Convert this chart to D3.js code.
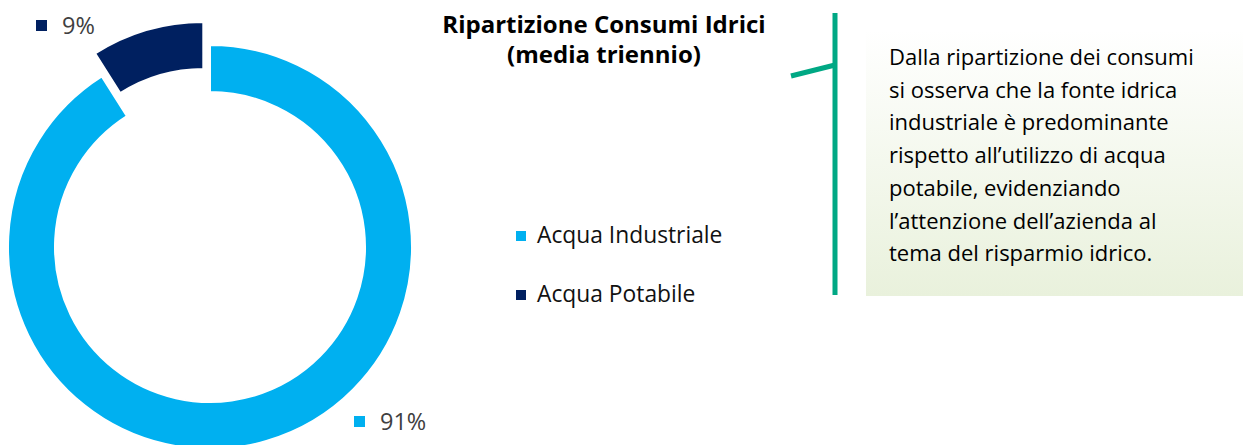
<!DOCTYPE html>
<html>
<head>
<meta charset="utf-8">
<script src="https://cdn.jsdelivr.net/npm/d3@7"></script>
<style>
  body { margin: 0; background: #fff; }
  svg { display: block; font-family: "Open Sans", Lato, sans-serif; font-variant-ligatures: none; }
</style>
</head>
<body>
<div id="chart"></div>
<script>
var svgWidth = 1243;
var svgHeight = 445;

// data
var categories = ["Acqua Industriale", "Acqua Potabile"];
var values = [91, 9];
var colors = ["#00B0F0", "#002060"];
var titleLines = ["Ripartizione Consumi Idrici", "(media triennio)"];
var noteLines = [
  "Dalla ripartizione dei consumi",
  "si osserva che la fonte idrica",
  "industriale è predominante",
  "rispetto all\u2019utilizzo di acqua",
  "potabile, evidenziando",
  "l\u2019attenzione dell\u2019azienda al",
  "tema del risparmio idrico."
];

var svg = d3.select("#chart")
  .append("svg")
  .attr("width", svgWidth)
  .attr("height", svgHeight);

// donut
var cx = 210, cy = 247;
var outerR = 202, innerR = 155;
var explode = 24;

var pie = d3.pie().sort(null).value(d => d);
var arc = d3.arc().innerRadius(innerR).outerRadius(outerR);
var arcs = pie(values);

var donut = svg.append("g")
  .attr("transform", `translate(${cx}, ${cy})`);

donut.selectAll("path")
  .data(arcs)
  .enter()
  .append("path")
  .attr("d", arc)
  .attr("fill", (d, i) => colors[i])
  .attr("stroke", "#fff")
  .attr("stroke-width", 2)
  .attr("transform", function(d, i) {
    if (i !== 1) return null;
    // pull the small slice out along its bisector
    var mid = (d.startAngle + d.endAngle) / 2;
    return `translate(${Math.sin(mid) * explode}, ${-Math.cos(mid) * explode})`;
  });

// data labels (placed like the Excel ones)
var labelPos = [[354, 430], [36, 34]];
var dataLabels = svg.append("g");
arcs.forEach(function(d, i) {
  var g = dataLabels.append("g")
    .attr("transform", `translate(${labelPos[i][0]}, ${labelPos[i][1]})`);
  g.append("rect")
    .attr("x", 0).attr("y", -14)
    .attr("width", 11).attr("height", 11)
    .attr("fill", colors[i]);
  g.append("text")
    .attr("x", 26).attr("y", 0)
    .attr("font-size", "23.5px")
    .attr("fill", "#404040")
    .text(d3.format(".0f")(d.data) + "%");
});

// title
svg.append("g")
  .selectAll("text")
  .data(titleLines)
  .enter()
  .append("text")
  .attr("x", 604)
  .attr("y", (d, i) => 33 + i * 30)
  .attr("text-anchor", "middle")
  .attr("font-size", "24px")
  .attr("font-weight", "bold")
  .attr("fill", "#000")
  .text(d => d);

// legend
var legend = svg.append("g")
  .attr("transform", "translate(516, 243)");
var items = legend.selectAll("g")
  .data(categories)
  .enter()
  .append("g")
  .attr("transform", (d, i) => `translate(0, ${i * 59})`);
items.append("rect")
  .attr("x", 0).attr("y", -12)
  .attr("width", 10).attr("height", 10)
  .attr("fill", (d, i) => colors[i]);
items.append("text")
  .attr("x", 21).attr("y", 0)
  .attr("font-size", "22.8px")
  .attr("fill", "#111")
  .text(d => d);

// green bracket
svg.append("line")
  .attr("x1", 835).attr("x2", 835)
  .attr("y1", 13).attr("y2", 295)
  .attr("stroke", "#00A884")
  .attr("stroke-width", 5);
svg.append("line")
  .attr("x1", 791).attr("y1", 76)
  .attr("x2", 835).attr("y2", 65)
  .attr("stroke", "#00A884")
  .attr("stroke-width", 5);

// note box with gradient
var defs = svg.append("defs");
var grad = defs.append("linearGradient")
  .attr("id", "noteGrad")
  .attr("x1", 0).attr("y1", 0)
  .attr("x2", 0).attr("y2", 1);
grad.append("stop").attr("offset", "0%").attr("stop-color", "#ffffff");
grad.append("stop").attr("offset", "100%").attr("stop-color", "#E9F1DC");

svg.append("rect")
  .attr("x", 866).attr("y", 30)
  .attr("width", 377).attr("height", 266)
  .attr("fill", "url(#noteGrad)");

svg.append("g")
  .selectAll("text")
  .data(noteLines)
  .enter()
  .append("text")
  .attr("x", 889)
  .attr("y", (d, i) => 65 + i * 32.7)
  .attr("font-size", "22px")
  .attr("fill", "#000")
  .text(d => d);
</script>
</body>
</html>
